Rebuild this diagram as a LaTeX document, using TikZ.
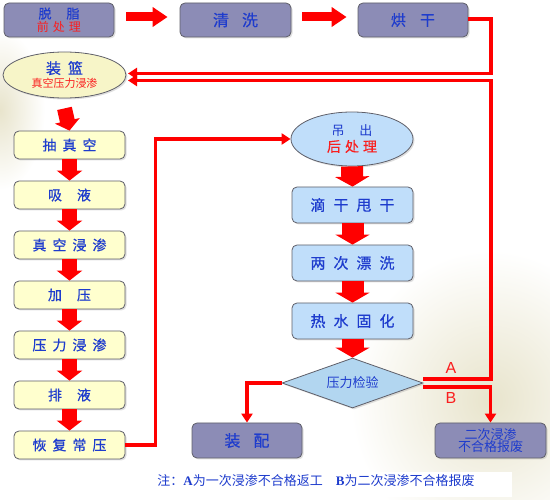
\documentclass[tikz,border=0pt]{standalone}
\usepackage{fontspec}
\setmainfont{Noto Sans CJK SC}[FakeBold=0.6]
\newfontfamily\cjkreg{Noto Sans CJK SC}
\newfontfamily\lat{Liberation Serif}
\newfontfamily\latsans{Liberation Sans}
\usetikzlibrary{shapes.geometric,arrows.meta,shadows}
\definecolor{boxgray}{RGB}{140,140,182}
\definecolor{boxyel}{RGB}{255,255,206}
\definecolor{ellyel}{RGB}{247,245,200}
\definecolor{boxblue}{RGB}{192,222,250}
\definecolor{diablue}{RGB}{178,214,240}
\definecolor{txtblue}{RGB}{30,60,205}
\definecolor{txtred}{RGB}{250,30,30}
\definecolor{outl}{RGB}{95,95,105}
\definecolor{arrred}{RGB}{255,0,0}
\definecolor{bgbeige}{RGB}{232,228,204}
\newcommand{\fs}[1]{\fontsize{#1}{#1}\selectfont}
\tikzset{
  base/.style={draw=outl, line width=0.8pt, inner sep=0pt, text=txtblue, align=center,
    drop shadow={opacity=0.25,shadow xshift=1.5pt,shadow yshift=-1.5pt}},
  graybox/.style={base, rounded corners=5pt, fill=boxgray, minimum width=110pt, minimum height=34pt},
  yelbox/.style={base, rounded corners=5pt, fill=boxyel, minimum width=111pt, minimum height=28pt, font=\fs{14}},
  bluebox/.style={base, rounded corners=5pt, fill=boxblue, minimum width=121pt, minimum height=36pt, font=\fs{15}},
  ell/.style={base, ellipse},
  bigarr/.style={arrred, line width=15pt, -{Triangle[width=25pt,length=10pt]}},
  widearr/.style={arrred, line width=22pt, -{Triangle[width=34pt,length=10pt]}},
  harr/.style={arrred, line width=9pt, -{Triangle[width=19pt,length=15pt]}},
  redline/.style={draw=arrred, line width=3.5pt},
  redarr/.style={redline, -{Triangle[width=11pt,length=9pt]}},
}
\begin{document}
\begin{tikzpicture}[x=1pt,y=-1pt]
\useasboundingbox (0,0) rectangle (550,500);
% background
\shade[inner color=bgbeige, outer color=white] (0,110) ellipse (45 and 80);
\shade[inner color=bgbeige, outer color=white] (490,400) ellipse (140 and 150);
\fill[white] (140,472) rectangle (512,497);

% top row
\node[graybox] (tuozhi) at (59,20) {\fs{13}脱\hspace{15pt}脂\\[1pt]\color{txtred}\cjkreg\fs{12}前\hspace{4pt}处\hspace{4pt}理};
\node[graybox, minimum width=111pt, font=\fs{16}] (qingxi) at (235.5,20) {清\hspace{13pt}洗};
\node[graybox, font=\fs{15}] (honggan) at (413,20) {烘\hspace{14pt}干};

\node[ell, fill=ellyel, minimum width=123pt, minimum height=46pt] (zhuanglan) at (64.5,75)
  {\fs{15}装\hspace{7pt}篮\\[2pt]\color{txtred}\cjkreg\fs{11}真空压力浸渗};

% left column
\node[yelbox] (L1) at (69.5,145) {抽\hspace{6pt}真\hspace{6pt}空};
\node[yelbox] (L2) at (69.5,195) {吸\hspace{15pt}液};
\node[yelbox] (L3) at (69.5,245) {真\hspace{6pt}空\hspace{6pt}浸\hspace{6pt}渗};
\node[yelbox] (L4) at (69.5,295) {加\hspace{15pt}压};
\node[yelbox] (L5) at (69.5,345) {压\hspace{6pt}力\hspace{6pt}浸\hspace{6pt}渗};
\node[yelbox] (L6) at (69.5,395) {排\hspace{15pt}液};
\node[yelbox] (L7) at (69.5,445) {恢\hspace{6pt}复\hspace{6pt}常\hspace{6pt}压};

% right column
\node[ell, fill=boxblue, minimum width=122pt, minimum height=54pt] (diaochu) at (352,139)
  {\cjkreg\fs{13}吊\hspace{15pt}出\\[2pt]\color{txtred}\fs{14}后\hspace{4pt}处\hspace{4pt}理};
\node[bluebox] (R1) at (352.5,205) {滴\hspace{8pt}干\hspace{8pt}甩\hspace{8pt}干};
\node[bluebox] (R2) at (352.5,263) {两\hspace{8pt}次\hspace{8pt}漂\hspace{8pt}洗};
\node[bluebox] (R3) at (352.5,321) {热\hspace{8pt}水\hspace{8pt}固\hspace{8pt}化};
\node[base, diamond, fill=diablue, aspect=2.8, minimum width=141pt, minimum height=50pt, font=\cjkreg\fs{13}] (check) at (352.5,383) {压力检验};

\node[graybox, minimum height=35pt, font=\fs{16}] (zhuangpei) at (247,440.5) {装\hspace{13pt}配};
\node[graybox, minimum width=111pt, minimum height=35pt, font=\cjkreg\fs{13}] (erci) at (490.5,440.5) {二次浸渗\\[-1pt]不合格报废};

% block arrows
\draw[harr] ([xshift=12pt,yshift=3pt]tuozhi.east) -- ([xshift=-12pt,yshift=3pt]qingxi.west);
\draw[harr] ([xshift=11pt,yshift=3pt]qingxi.east) -- ([xshift=-11pt,yshift=3pt]honggan.west);
\draw[bigarr] ([yshift=-10pt]zhuanglan.south) -- (L1.north);
\draw[bigarr] (L1.south) -- (L2.north);
\draw[bigarr] (L2.south) -- (L3.north);
\draw[bigarr] (L3.south) -- (L4.north);
\draw[bigarr] (L4.south) -- (L5.north);
\draw[bigarr] (L5.south) -- (L6.north);
\draw[bigarr] (L6.south) -- (L7.north);
\draw[widearr] (diaochu.south) -- (R1.north);
\draw[widearr] (R1.south) -- (R2.north);
\draw[widearr] (R2.south) -- (R3.north);
\draw[widearr] (R3.south) -- (check.north);

% red connectors
\coordinate (inA) at (128,73.5);
\coordinate (inB) at (128,80.5);
\coordinate (cornA) at (491,73.5);
\coordinate (cornB) at (491,80.5);
\draw[redarr] ([yshift=1pt]honggan.east) -| (cornA) -- (inA);
\draw[redarr] (L7.east) -- ++(30,0) |- (diaochu.west);
\draw[redarr] (check.west) -| (zhuangpei.north);
\draw[redarr] ([yshift=4pt]check.east) -| (cornB) -- (inB);
\draw[redarr] ([yshift=-4pt]check.east) -| (erci.north);

\node[text=txtred, font=\latsans\fs{16}] (labA) at (451,368) {A};
\node[text=txtred, font=\latsans\fs{16}] (labB) at (451,398) {B};

\node[text=txtblue, font=\cjkreg\fs{13}] (note) at (316,481)
  {注：{\lat\bfseries A}为一次浸渗不合格返工\hspace{13pt}{\lat\bfseries B}为二次浸渗不合格报废};
\end{tikzpicture}
\end{document}
